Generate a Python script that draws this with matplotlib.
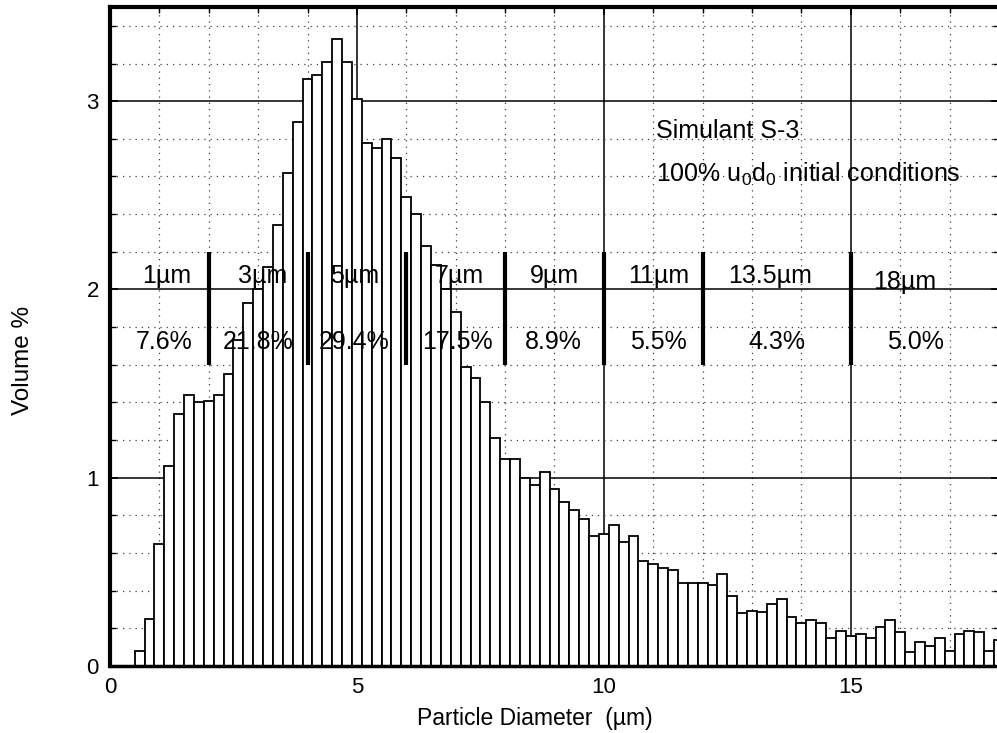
import numpy as np
import matplotlib.pyplot as plt
from matplotlib.ticker import MultipleLocator


FONT = "Liberation Sans"
plt.rcParams["font.family"] = [FONT, "DejaVu Sans"]
plt.rcParams["mathtext.fontset"] = "custom"
plt.rcParams["mathtext.rm"] = FONT
plt.rcParams["mathtext.it"] = FONT

# particle size histogram, 0.2 um channels starting at 0.1 um
BIN_START = 0.1
BIN_WIDTH = 0.2
volume_pct = [
    0.0, 0.0, 0.08, 0.25, 0.65, 1.06, 1.34, 1.44, 1.40, 1.41,
    1.44, 1.55, 1.73, 1.93, 2.00, 2.12, 2.34, 2.62, 2.89, 3.12,
    3.14, 3.21, 3.33, 3.21, 3.01, 2.78, 2.75, 2.80, 2.70, 2.49,
    2.40, 2.23, 2.13, 2.00, 1.88, 1.59, 1.53, 1.40, 1.21, 1.10,
    1.10, 1.00, 0.96, 1.03, 0.94, 0.87, 0.83, 0.78, 0.69, 0.70,
    0.75, 0.66, 0.69, 0.56, 0.54, 0.52, 0.51, 0.44, 0.44, 0.44,
    0.43, 0.49, 0.37, 0.28, 0.29, 0.285, 0.33, 0.355, 0.26, 0.23,
    0.245, 0.23, 0.147, 0.186, 0.16, 0.17, 0.147, 0.205, 0.245, 0.18,
    0.076, 0.126, 0.106, 0.147, 0.08, 0.17, 0.188, 0.18, 0.081, 0.138,
]

# size classes: boundaries, class names and volume share
class_bounds = [2, 4, 6, 8, 10, 12, 15]
class_names = ["1\u00b5m", "3\u00b5m", "5\u00b5m", "7\u00b5m", "9\u00b5m",
               "11\u00b5m", "13.5\u00b5m", "18\u00b5m"]
class_name_x = [1.15, 3.1, 4.95, 7.07, 9.0, 11.1, 13.37, 16.1]
class_share = ["7.6%", "21.8%", "29.4%", "17.5%", "8.9%", "5.5%", "4.3%", "5.0%"]
class_share_x = [1.1, 3.0, 4.95, 7.04, 8.97, 11.1, 13.5, 16.3]

TEXT_SIZE = 18


def draw_grid(ax):
    ax.set_xlim(0, 18)
    ax.set_ylim(0, 3.5)
    ax.xaxis.set_major_locator(MultipleLocator(5))
    ax.xaxis.set_minor_locator(MultipleLocator(1))
    ax.yaxis.set_major_locator(MultipleLocator(1))
    ax.yaxis.set_minor_locator(MultipleLocator(0.2))
    ax.grid(which="major", color="black", linewidth=1.1, linestyle="-", zorder=0)
    ax.grid(which="minor", color="0.25", linewidth=0.9,
            linestyle=(0, (1, 4)), zorder=0)
    ax.set_axisbelow(True)

    ax.tick_params(which="both", direction="in", top=True, right=True,
                   labelsize=16, pad=8)
    ax.tick_params(which="major", length=6, width=1.2)
    ax.tick_params(which="minor", length=4, width=1.0)

    ax.spines["left"].set_linewidth(3.0)
    ax.spines["top"].set_linewidth(3.0)
    ax.spines["bottom"].set_linewidth(2.5)
    ax.spines["right"].set_visible(False)


def draw_bars(ax):
    n = len(volume_pct)
    left = BIN_START + BIN_WIDTH * np.arange(n)
    ax.bar(left, volume_pct, width=BIN_WIDTH, align="edge",
           color="white", edgecolor="black", linewidth=1.3, zorder=2)


def draw_classes(ax):
    ax.vlines(class_bounds, 1.6, 2.2, color="black", linewidth=3.0, zorder=4)
    for name, x in zip(class_names, class_name_x):
        y = 2.04 if name.startswith("18") else 2.07
        ax.text(x, y, name, ha="center", va="center", fontsize=TEXT_SIZE, zorder=5)
    for share, x in zip(class_share, class_share_x):
        ax.text(x, 1.72, share, ha="center", va="center", fontsize=TEXT_SIZE, zorder=5)

    ax.text(11.05, 2.84, "Simulant S-3", ha="left", va="center",
            fontsize=TEXT_SIZE, zorder=5)
    ax.text(11.05, 2.61, r"100% u$_\mathregular{0}$d$_\mathregular{0}$ initial conditions",
            ha="left", va="center", fontsize=TEXT_SIZE, zorder=5)


def main():
    fig = plt.figure(figsize=(9.97, 7.33), dpi=100)
    ax = fig.add_axes([0.1103, 0.0914, 0.8917, 0.899])

    draw_grid(ax)
    draw_bars(ax)
    draw_classes(ax)

    ax.set_xlabel("Particle Diameter  (\u00b5m)", fontsize=16.5)
    ax.xaxis.set_label_coords(0.478, -0.062)
    ax.set_ylabel("Volume %", fontsize=17.5)
    ax.yaxis.set_label_coords(-0.086, 0.464)

    fig.savefig("out.png", dpi=100)
    plt.close(fig)


if __name__ == "__main__":
    main()
